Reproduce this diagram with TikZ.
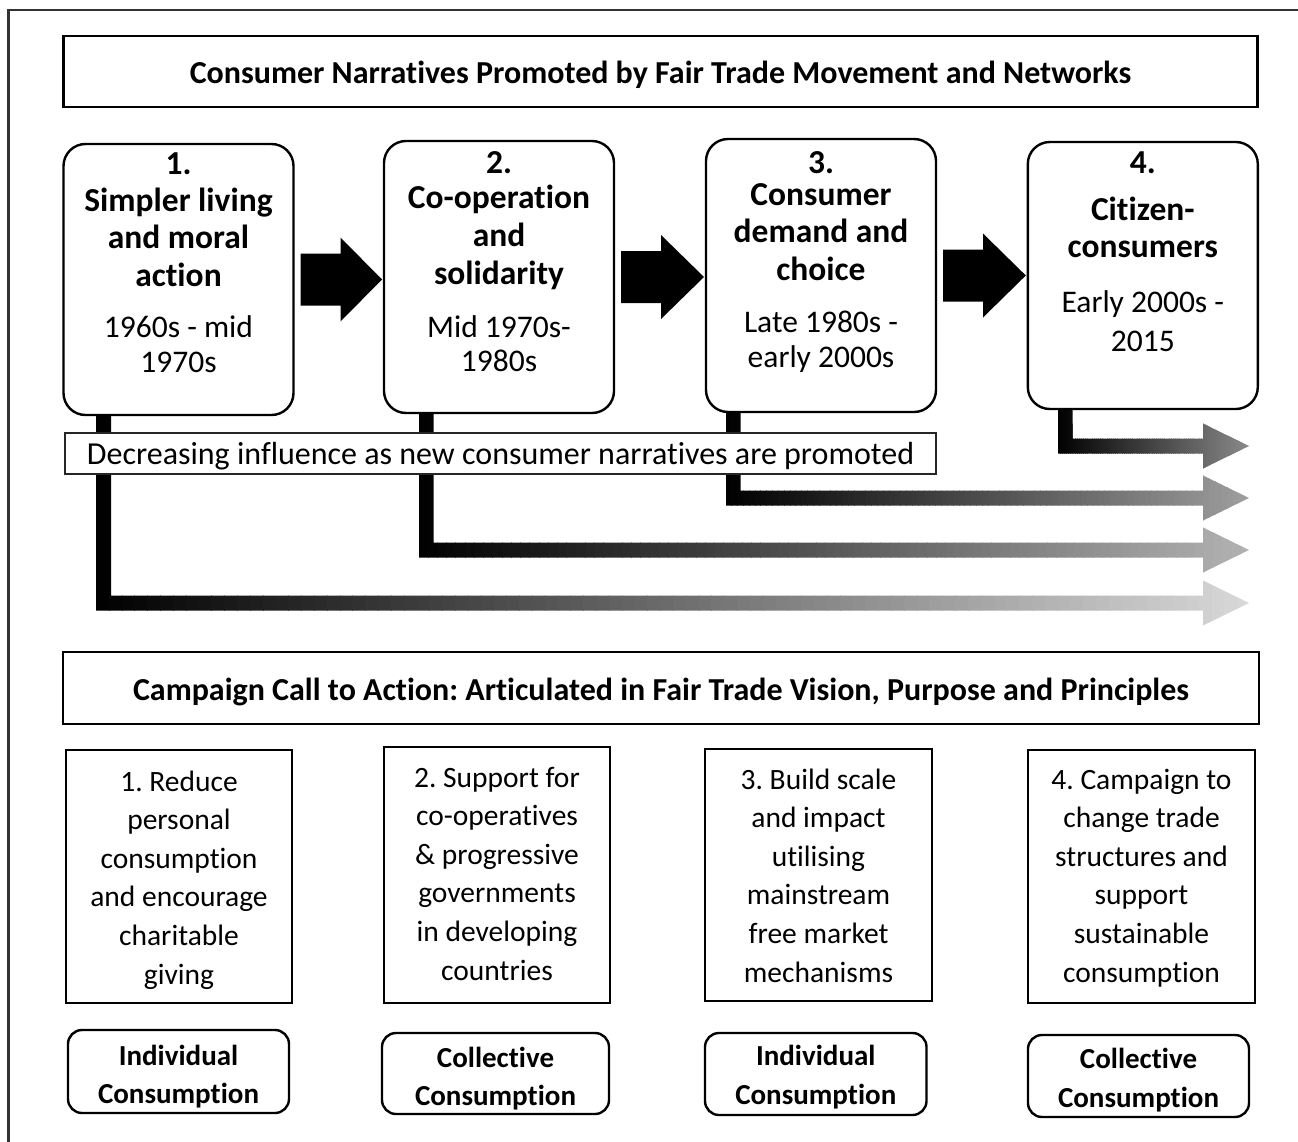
\documentclass[tikz,border=0pt]{standalone}
\usepackage{fontspec}
\setmainfont{Carlito}[Ligatures=NoCommon]
\frenchspacing
\usetikzlibrary{calc}
% #1 node, #2 x offset of the bar from #1.south west, #3 tip coordinate,
% #4 black percentage at the tip, #5 absolute x of the bar's left side
\newcommand\fadearrow[5]{%
  \begin{scope}
    \clip ([xshift=#2]#1.south west) -- ([xshift=#2+15]#1.south west)
      |- ($(#3)+(-46,-7.5)$) -- ($(#3)+(-46,-22.5)$) -- (#3)
      -- ($(#3)+(-46,22.5)$) -- ($(#3)+(-46,7.5)$)
      -| ([xshift=#2]#1.south west) -- cycle;
    \pgfmathsetmacro\stepw{(1250-#5)/90}%
    \pgfmathsetmacro\stepc{(100-#4)/90}%
    \foreach \i in {0,...,89}{%
      \pgfmathsetmacro\xa{#5+\stepw*\i}%
      \pgfmathsetmacro\xb{#5+\stepw*(\i+1)+0.9}%
      \pgfmathsetmacro\pc{100-\stepc*(\i+0.5)}%
      \fill[black!\pc] (\xa,380) rectangle (\xb,640);}
  \end{scope}}
\newcommand\blockarrow[2]{% from #1 to #2
  \fill ($(#1.east)+(7,-26)$) -- ($(#1.east)+(47,-26)$) -- ($(#1.east)+(47,-42)$)
    -- ($(#2.west |- #1.east)+(-2,0)$) -- ($(#1.east)+(47,42)$)
    -- ($(#1.east)+(47,26)$) -- ($(#1.east)+(7,26)$) -- cycle;}
\begin{document}
\begin{tikzpicture}[x=1pt,y=-1pt,
  every node/.style={inner sep=0pt, outer sep=0pt},
  frameline/.style={draw=black!80, line width=2.5pt},
  titlebox/.style={draw, line width=2.6pt, fill=white},
  phasebox/.style={draw, line width=2.4pt, rounded corners=22pt, fill=white},
  actbox/.style={draw, line width=2.4pt, fill=white},
  tagbox/.style={draw, line width=2.4pt, rounded corners=14pt, fill=white},
  infobox/.style={draw=black!85, line width=1.4pt, fill=white},
  ttl/.style={anchor=base, font=\bfseries\fontsize{32}{38}\selectfont},
  hd/.style={anchor=base, font=\bfseries\fontsize{33.5}{37}\selectfont},
  dt/.style={anchor=base, font=\fontsize{31.5}{35}\selectfont},
  body/.style={anchor=base, font=\fontsize{29.5}{38}\selectfont},
  tag/.style={anchor=base, font=\bfseries\fontsize{29}{38}\selectfont},
  info/.style={anchor=base, font=\fontsize{32}{36}\selectfont},
]
\useasboundingbox (0,0) rectangle (1298,1142);
\fill[white] (0,0) rectangle (1298,1142);
% outer frame (cropped at right and bottom)
\draw[frameline] (8.5,1160) -- (8.5,10) -- (1320,10);

% title
\node[titlebox, minimum width=1194, minimum height=71] (t1) at (660.5,71.5) {};
\node[ttl] (t1txt) at (660.5,83.5) {Consumer Narratives Promoted by Fair Trade Movement and Networks};

% phase box positions
\path node[minimum width=230, minimum height=271] (b1) at (178.5,279.5) {}
      node[minimum width=230, minimum height=272] (b2) at (499,277) {}
      node[minimum width=230, minimum height=273] (b3) at (821,275.5) {}
      node[minimum width=230, minimum height=267] (b4) at (1142.8,275.5) {};

% tip coordinates of the fading arrows
\coordinate (e4) at (1249,446);
\coordinate (e3) at (1249,498);
\coordinate (e2) at (1249,550);
\coordinate (e1) at (1249,603);
\fadearrow{b1}{32.5}{e1}{15}{96}
\fadearrow{b2}{34.5}{e2}{30}{418.5}
\fadearrow{b3}{19.5}{e3}{38}{725.5}
\fadearrow{b4}{29.9}{e4}{46}{1057.5}

\node[phasebox, minimum width=230, minimum height=271] (p1) at (b1) {};
\node[phasebox, minimum width=230, minimum height=272] (p2) at (b2) {};
\node[phasebox, minimum width=230, minimum height=273] (p3) at (b3) {};
\node[phasebox, minimum width=230, minimum height=267] (p4) at (b4) {};

\blockarrow{p1}{p2}
\blockarrow{p2}{p3}
\blockarrow{p3}{p4}

% phase texts
\node[hd] (h1a) at (178.5,175) {1.};
\node[hd] (h1b) at (178.5,211.5) {Simpler living};
\node[hd] (h1c) at (178.5,248.5) {and moral};
\node[hd] (h1d) at (178.5,286) {action};
\node[dt] (d1a) at (178.5,337) {1960s - mid};
\node[dt] (d1b) at (178.5,372) {1970s};

\node[hd] (h2a) at (499,174) {2.};
\node[hd] (h2b) at (499,209) {Co-operation};
\node[hd] (h2c) at (499,246.5) {and};
\node[hd] (h2d) at (499,284) {solidarity};
\node[dt] (d2a) at (499,337) {Mid 1970s-};
\node[dt] (d2b) at (499,371) {1980s};

\node[hd] (h3a) at (821,174) {3.};
\node[hd] (h3b) at (821,205.5) {Consumer};
\node[hd] (h3c) at (821,242) {demand and};
\node[hd] (h3d) at (821,280) {choice};
\node[dt] (d3a) at (821,332.5) {Late 1980s -};
\node[dt] (d3b) at (821,367) {early 2000s};

\node[hd] (h4a) at (1142.8,174) {4.};
\node[hd] (h4b) at (1142.8,220) {Citizen-};
\node[hd] (h4c) at (1142.8,257.5) {consumers};
\node[dt] (d4a) at (1142.8,312) {Early 2000s -};
\node[dt] (d4b) at (1142.8,351.5) {2015};

% decreasing influence label
\node[infobox, minimum width=871, minimum height=41] (inf) at (500.5,453.5) {};
\node[info] (inftxt) at (500.5,464) {Decreasing influence as new consumer narratives are promoted};

% second title
\node[titlebox, minimum width=1196, minimum height=72] (t2) at (661,688) {};
\node[ttl] (t2txt) at (661,700.5) {Campaign Call to Action: Articulated in Fair Trade Vision, Purpose and Principles};

% action boxes
\node[actbox, minimum width=226, minimum height=253] (a1) at (179,876.5) {};
\node[actbox, minimum width=226, minimum height=256] (a2) at (497,875) {};
\node[actbox, minimum width=227, minimum height=252] (a3) at (818.5,875) {};
\node[actbox, minimum width=227, minimum height=253] (a4) at (1141.5,876.5) {};

\node[body] at (179,791) {1. Reduce};
\node[body] at (179,829.6) {personal};
\node[body] at (179,868.2) {consumption};
\node[body] at (179,906.8) {and encourage};
\node[body] at (179,945.4) {charitable};
\node[body] at (179,984) {giving};

\node[body] at (497,787) {2. Support for};
\node[body] at (497,825.6) {co-operatives};
\node[body] at (497,864.2) {\& progressive};
\node[body] at (497,902.8) {governments};
\node[body] at (497,941.4) {in developing};
\node[body] at (497,980) {countries};

\node[body] at (818.5,789) {3. Build scale};
\node[body] at (818.5,827.6) {and impact};
\node[body] at (818.5,866.2) {utilising};
\node[body] at (818.5,904.8) {mainstream};
\node[body] at (818.5,943.4) {free market};
\node[body] at (818.5,982) {mechanisms};

\node[body] at (1141.5,789) {4. Campaign to};
\node[body] at (1141.5,827.6) {change trade};
\node[body] at (1141.5,866.2) {structures and};
\node[body] at (1141.5,904.8) {support};
\node[body] at (1141.5,943.4) {sustainable};
\node[body] at (1141.5,982) {consumption};

% consumption tags
\node[tagbox, minimum width=221, minimum height=83] (c1) at (178.5,1071.5) {};
\node[tagbox, minimum width=227, minimum height=81] (c2) at (495.5,1073.5) {};
\node[tagbox, minimum width=221.5, minimum height=82] (c3) at (815.75,1074) {};
\node[tagbox, minimum width=221, minimum height=82] (c4) at (1138.5,1076) {};

\node[tag] at (178.5,1065) {Individual};
\node[tag] at (178.5,1103) {Consumption};
\node[tag] at (495.5,1067) {Collective};
\node[tag] at (495.5,1105) {Consumption};
\node[tag] at (815.75,1065) {Individual};
\node[tag] at (815.75,1104) {Consumption};
\node[tag] at (1138.5,1068) {Collective};
\node[tag] at (1138.5,1107) {Consumption};
\end{tikzpicture}
\end{document}
